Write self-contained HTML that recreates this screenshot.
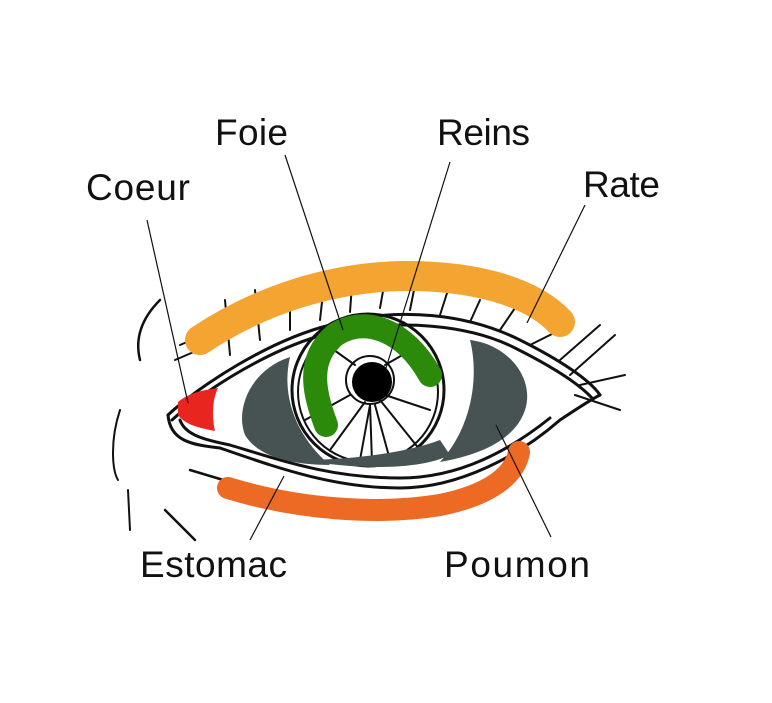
<!DOCTYPE html>
<html><head><style>body{margin:0;background:#fff}svg{display:block}text{font-family:"Liberation Sans",sans-serif;font-size:37px;fill:#111}</style></head><body>
<svg width="772" height="703" viewBox="0 0 772 703">
<g fill="none" stroke="#111" stroke-width="3" stroke-linecap="round">
<path d="M168,415 C200,385 270,340 330,325 C400,305 470,315 520,340 C560,360 590,380 600,395"/>
<path d="M172,420 C205,390 270,348 330,333 C400,318 470,325 515,348 C555,368 580,385 592,398"/>
<path d="M168,415 C170,440 190,445 220,448 C270,465 330,488 400,488 C460,488 520,455 560,420 C575,410 590,400 600,395"/>
<path d="M180,420 C185,435 205,440 230,445 C280,460 330,478 400,478 C460,478 510,450 550,418"/>
<circle cx="368" cy="390" r="76"/>
<circle cx="368" cy="392" r="70" stroke-width="2"/>
<circle cx="370" cy="380" r="24" stroke-width="2"/>
<path d="M370,405 L360,460 M375,405 L390,460 M365,402 L330,450 M380,400 L420,450 M385,395 L430,410 M350,395 L305,420 M385,365 L420,345 M355,365 L320,340 M370,404 L372,462" stroke-width="2"/>
<path d="M230,355 L225,300 M260,340 L255,290 M290,330 L290,285 M320,320 L325,275 M350,312 L352,285 M380,308 L385,280 M410,310 L415,285 M440,315 L448,290 M470,322 L480,300 M500,330 L515,308 M175,360 L210,345 M180,345 L215,330 M530,345 L560,330 M560,360 L600,325 M570,375 L615,335 M580,385 L625,375 M575,395 L620,410" stroke-width="2"/>
<path d="M160,300 C140,320 135,340 140,360" stroke-width="2.5"/>
<path d="M120,410 C110,440 112,470 118,480" stroke-width="2"/>
<path d="M128,490 L130,530" stroke-width="2"/>
<path d="M165,510 L195,540" stroke-width="2.5"/>
<path d="M190,470 L240,485" stroke-width="2.5"/>
</g>
<path d="M290,357 C250,370 235,410 245,435 C260,460 300,465 330,465 C300,440 280,400 290,357Z" fill="#475352"/>
<path d="M300,460 C360,470 420,470 450,455 L440,440 C400,455 340,460 300,460Z" fill="#475352"/>
<path d="M470,340 C510,345 535,380 525,410 C515,440 480,455 440,462 C470,430 480,380 470,340Z" fill="#475352"/>
<path d="M326,425 C315,395 305,360 335,335 C365,315 405,330 430,375" fill="none" stroke="#2b8a0a" stroke-width="24" stroke-linecap="round"/>
<circle cx="372" cy="382" r="20" fill="#000"/>
<path d="M200,340 C260,300 330,278 400,276 C470,275 530,290 560,322" fill="none" stroke="#f4a431" stroke-width="30" stroke-linecap="round"/>
<path d="M228,488 C300,510 380,515 440,505 C490,495 515,475 519,452" fill="none" stroke="#ec6a24" stroke-width="22" stroke-linecap="round"/>
<path d="M178,402 C190,392 205,390 218,388 C212,400 212,418 215,431 C200,428 185,425 178,415Z" fill="#e8251f"/>
<g stroke="#111" stroke-width="1.2">
<line x1="285" y1="155" x2="343" y2="330"/>
<line x1="450" y1="162" x2="386" y2="368"/>
<line x1="147" y1="220" x2="188" y2="403"/>
<line x1="585" y1="205" x2="527" y2="323"/>
<line x1="250" y1="540" x2="284" y2="476"/>
<line x1="551" y1="537" x2="496" y2="425"/>
</g>
<text x="215" y="145" textLength="73">Foie</text>
<text x="437" y="145" textLength="93">Reins</text>
<text x="86" y="200" textLength="104">Coeur</text>
<text x="583" y="197" textLength="77">Rate</text>
<text x="140" y="577" textLength="147">Estomac</text>
<text x="444" y="577" textLength="146">Poumon</text>
</svg>
</body></html>
